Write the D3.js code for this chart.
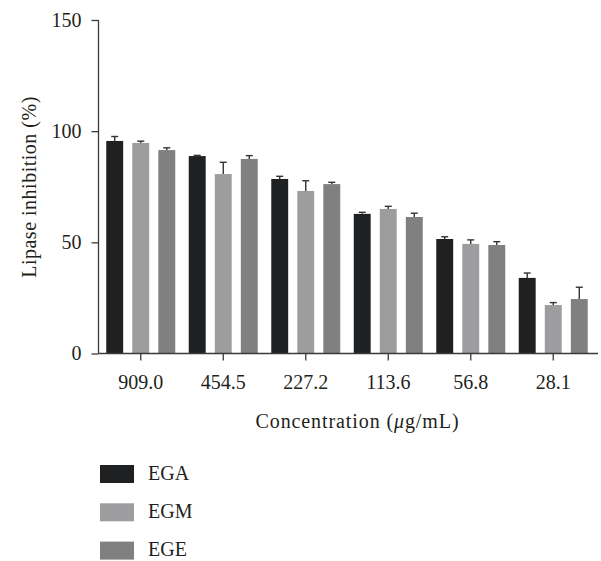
<!DOCTYPE html>
<html>
<head>
<meta charset="utf-8">
<script src="https://cdn.jsdelivr.net/npm/d3@7"></script>
<style>
  html, body { margin: 0; padding: 0; background: #fff; }
  svg { display: block; }
  text { font-family: "Liberation Serif", "DejaVu Serif", serif; fill: #231f20; }
</style>
</head>
<body>
<svg id="chart" width="601" height="561"></svg>
<script>
const categories = ["909.0", "454.5", "227.2", "113.6", "56.8", "28.1"];
const seriesNames = ["EGA", "EGM", "EGE"];
const EGA = [95.6, 88.8, 78.5, 62.8, 51.5, 34.0];
const EGM = [94.7, 80.7, 73.1, 65.0, 49.3, 21.8];
const EGE = [91.5, 87.5, 76.2, 61.4, 48.8, 24.5];
const EGA_err = [2.0, 0.3, 1.2, 0.7, 1.0, 2.2];
const EGM_err = [0.8, 5.3, 4.6, 1.2, 1.8, 1.1];
const EGE_err = [1.0, 1.5, 0.8, 1.7, 1.5, 5.3];
const yTicks = [0, 50, 100, 150];
const colors = ["#1f2022", "#9d9d9f", "#808080"];

const values = [EGA, EGM, EGE];
const errors = [EGA_err, EGM_err, EGE_err];

const svg = d3.select("#chart");
const x0 = 98.5, x1 = 594.5, yTop = 20, yBot = 353.5;

const x = d3.scaleBand().domain(categories).range([x0 + 1, x1]).paddingInner(0).paddingOuter(0);
const y = d3.scaleLinear().domain([0, 150]).range([yBot, yTop]);
const xs = d3.scaleBand().domain(seriesNames).range([-34.5, 34.5]).paddingInner(0.35).paddingOuter(0);

const axisColor = "#3a3a3a";

const data = [];
categories.forEach((c, i) => seriesNames.forEach((s, j) => {
  data.push({c, s, j, v: values[j][i], e: errors[j][i]});
}));

const g = svg.append("g");
g.selectAll("rect.bar").data(data).enter().append("rect")
  .attr("class", "bar")
  .attr("x", d => x(d.c) + x.bandwidth() / 2 + xs(d.s))
  .attr("y", d => y(d.v))
  .attr("width", xs.bandwidth())
  .attr("height", d => y(0) - y(d.v))
  .attr("fill", d => colors[d.j]);

const cx = d => x(d.c) + x.bandwidth() / 2 + xs(d.s) + xs.bandwidth() / 2;
const eb = g.selectAll("g.err").data(data).enter().append("g").attr("class", "err");
eb.append("line")
  .attr("x1", cx).attr("x2", cx)
  .attr("y1", d => y(d.v))
  .attr("y2", d => y(d.v + d.e))
  .attr("stroke", "#333").attr("stroke-width", 1.4);
eb.append("line")
  .attr("x1", d => cx(d) - 3.5)
  .attr("x2", d => cx(d) + 3.5)
  .attr("y1", d => y(d.v + d.e))
  .attr("y2", d => y(d.v + d.e))
  .attr("stroke", "#333").attr("stroke-width", 1.4);

// y axis
const yAxis = d3.axisLeft(y).tickValues(yTicks).tickSize(7).tickPadding(10).tickFormat(d3.format("d"));
const yg = svg.append("g").attr("transform", `translate(${x0},0)`).call(yAxis);
yg.select(".domain").attr("d", `M0,${yTop}V${yBot}`).attr("stroke", axisColor).attr("stroke-width", 1.3);
yg.selectAll(".tick line").attr("stroke", axisColor).attr("stroke-width", 1.3);
yg.selectAll(".tick text").attr("font-size", 20).attr("font-family", "Liberation Serif").attr("fill", "#231f20");

// x axis
const xAxis = d3.axisBottom(x).tickSize(7).tickPadding(14);
const xg = svg.append("g").attr("transform", `translate(0,${yBot})`).call(xAxis);
xg.select(".domain").attr("d", `M${x0},0H598`).attr("stroke", axisColor).attr("stroke-width", 1.3);
xg.selectAll(".tick line").attr("stroke", axisColor).attr("stroke-width", 1.3);
xg.selectAll(".tick text").attr("font-size", 20).attr("font-family", "Liberation Serif").attr("fill", "#231f20");

// axis titles
const xt = svg.append("text").attr("x", 357.5).attr("y", 427.5).attr("text-anchor", "middle")
  .attr("font-size", 20).attr("letter-spacing", 0.9);
xt.append("tspan").text("Concentration (");
xt.append("tspan").attr("font-style", "italic").text("μ");
xt.append("tspan").text("g/mL)");

svg.append("text").attr("transform", "translate(36,187) rotate(-90)")
  .attr("text-anchor", "middle").attr("font-size", 20).attr("letter-spacing", 0.5).text("Lipase inhibition (%)");

// legend
const lg = svg.append("g").selectAll("g").data(seriesNames).enter().append("g")
  .attr("transform", (d, i) => `translate(100,${465 + i * 38.3})`);
lg.append("rect").attr("width", 34).attr("height", 18).attr("fill", (d, i) => colors[i]);
lg.append("text").attr("x", 48).attr("y", 14.5).attr("font-size", 20).text(d => d);
</script>
</body>
</html>
